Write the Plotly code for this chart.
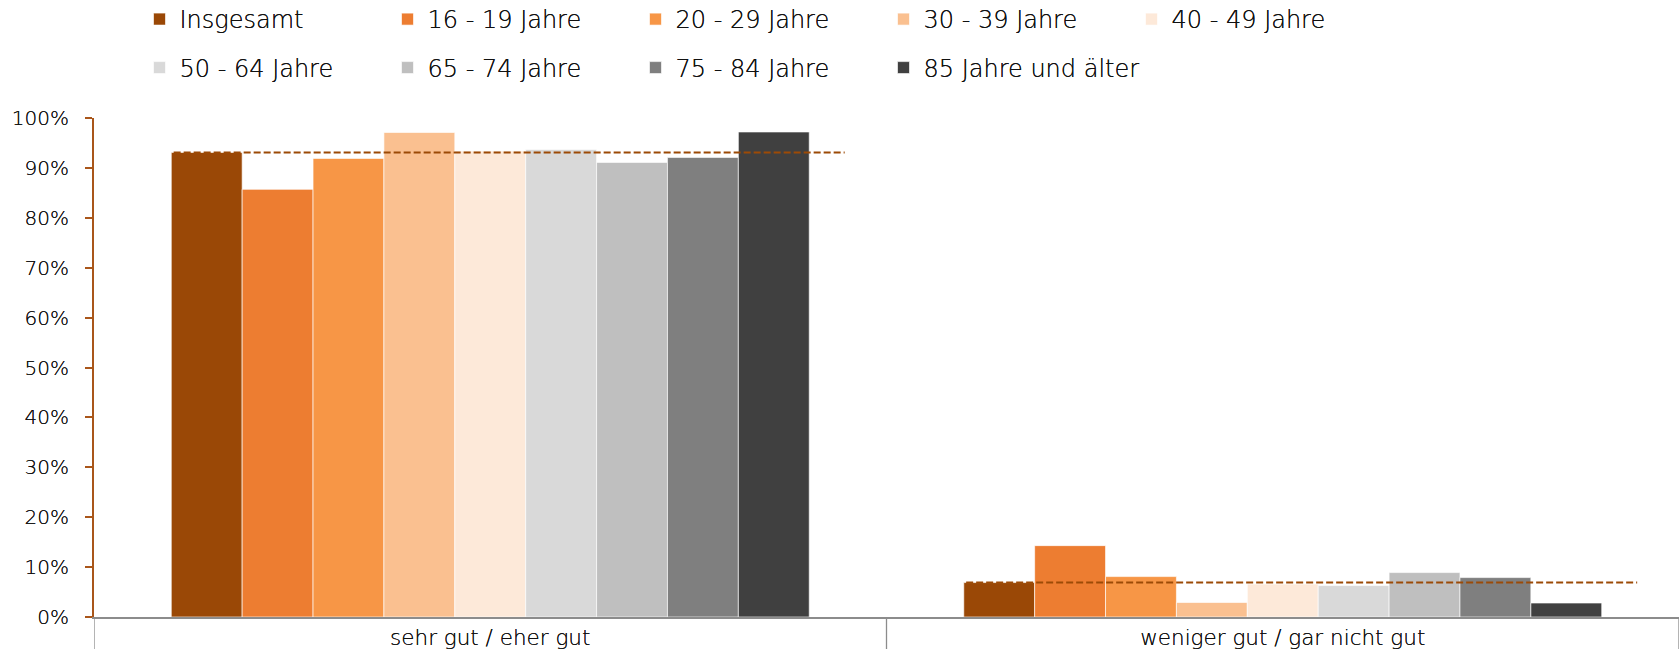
import plotly.graph_objects as go

# Kategorien und Altersgruppen
categories = ["sehr gut / eher gut", "weniger gut / gar nicht gut"]
groups = [
    "Insgesamt", "16 - 19 Jahre", "20 - 29 Jahre", "30 - 39 Jahre", "40 - 49 Jahre",
    "50 - 64 Jahre", "65 - 74 Jahre", "75 - 84 Jahre", "85 Jahre und älter",
]
# Anteile in Prozent je Altersgruppe: [sehr gut / eher gut, weniger gut / gar nicht gut]
values = {
    "Insgesamt": [93.1, 6.9],
    "16 - 19 Jahre": [85.7, 14.3],
    "20 - 29 Jahre": [91.9, 8.1],
    "30 - 39 Jahre": [97.1, 2.9],
    "40 - 49 Jahre": [93.4, 6.6],
    "50 - 64 Jahre": [93.7, 6.3],
    "65 - 74 Jahre": [91.1, 8.9],
    "75 - 84 Jahre": [92.1, 7.9],
    "85 Jahre und älter": [97.2, 2.8],
}
colors = [
    "#9A4806", "#ED7D31", "#F79646", "#FAC090", "#FDE9D9",
    "#D9D9D9", "#BFBFBF", "#7F7F7F", "#404040",
]
y_ticks = list(range(0, 101, 10))

FONT = "DejaVu Sans"
WEIGHT = 200
TEXT = "#111111"
# leichter Schatten macht die dünne Schrift etwas kräftiger
SHADOW = "0px 0px 0.6px rgba(0,0,0,0.85)"
BARGAP = 0.195

# Legendenraster: 5 Spalten je Zeile, feste Spaltenbreite in Pixeln
LEG_X0 = 139.5
LEG_COL = 248
LEG_ROWS_Y = [19.5, 68.0]
ENTRY_W = LEG_COL - 45


def legend_of(i):
    # die letzte Altersgruppe hat einen längeren Text und bekommt eine eigene Legende
    if i < 5:
        return "legend"
    if i < 8:
        return "legend2"
    return "legend3"


def font(size):
    return dict(family=FONT, size=size, color=TEXT, weight=WEIGHT, shadow=SHADOW)


fig = go.Figure()
for i, (g, c) in enumerate(zip(groups, colors)):
    fig.add_trace(go.Bar(
        name=g,
        x=categories,
        y=values[g],
        marker=dict(color=c, line=dict(color="rgba(255,255,255,0.8)", width=0.8)),
        legend=legend_of(i),
        hovertemplate="%{x}<br>" + g + ": %{y:.1f}%<extra></extra>",
    ))

shapes = []
# Referenzlinie "Insgesamt" über jede Kategorie
half_group = (1 - BARGAP) / 2
bar_w = (1 - BARGAP) / len(groups)
for ci, v in enumerate(values["Insgesamt"]):
    shapes.append(dict(
        type="line", xref="x", yref="y", layer="above",
        x0=ci - half_group + 0.003, x1=ci + half_group + bar_w / 2,
        y0=v, y1=v,
        line=dict(color="#9C4A06", width=2, dash="7px,3px"),
    ))
# Trennstriche zwischen den Kategorien unterhalb der x-Achse
for b in range(len(categories) + 1):
    shapes.append(dict(
        type="line", xref="x", yref="paper", layer="above",
        x0=b - 0.5, x1=b - 0.5, y0=0, y1=-0.07,
        line=dict(color="#8C8C8C", width=1.3),
    ))

W, H = 1679, 649


def legend_box(col, row, fixed=True):
    d = dict(
        orientation="h",
        xref="container", yref="container",
        xanchor="left", yanchor="middle",
        x=(LEG_X0 + col * LEG_COL) / W, y=1 - LEG_ROWS_Y[row] / H,
        itemwidth=30,
        font=font(24),
        bgcolor="rgba(0,0,0,0)",
        traceorder="normal",
    )
    if fixed:
        d.update(entrywidth=ENTRY_W, entrywidthmode="pixels")
    return d


fig.update_layout(
    width=W, height=H,
    margin=dict(l=94, r=0, t=118, b=32, pad=0),
    paper_bgcolor="white", plot_bgcolor="white",
    font=font(21),
    barmode="group", bargap=BARGAP, bargroupgap=0,
    showlegend=True,
    legend=legend_box(0, 0),
    legend2=legend_box(0, 1),
    legend3=legend_box(3, 1, fixed=False),
    shapes=shapes,
    xaxis=dict(
        type="category",
        showline=True, linecolor="#8C8C8C", linewidth=2,
        ticks="", showgrid=False, zeroline=False,
        tickfont=font(21.5),
        range=[-0.5, 1.5],
    ),
    yaxis=dict(
        range=[0, 100],
        tickvals=y_ticks,
        ticktext=[f"{t}%" for t in y_ticks],
        showline=True, linecolor="#A9561A", linewidth=2,
        ticks="outside", ticklen=7, tickwidth=2, tickcolor="#A9561A",
        ticklabelstandoff=12,
        showgrid=False, zeroline=False,
        tickfont=font(20),
    ),
)

fig.write_html("out.html")
